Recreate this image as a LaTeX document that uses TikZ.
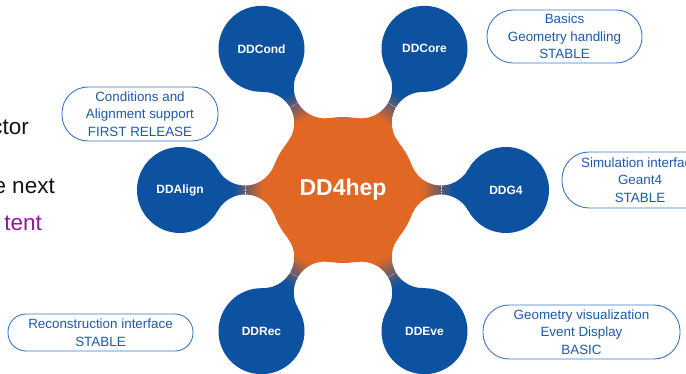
\documentclass[tikz,border=0pt]{standalone}
\usepackage{fontspec}
\setmainfont{Liberation Sans}
\usetikzlibrary{calc}
\definecolor{satblue}{RGB}{12,82,160}
\definecolor{coreorange}{RGB}{224,104,36}
\definecolor{boxline}{RGB}{60,120,192}
\definecolor{boxtext}{RGB}{30,90,170}
\definecolor{slidepurple}{RGB}{150,20,160}
\definecolor{slideblack}{RGB}{20,20,20}
\begin{document}
\begin{tikzpicture}[x=1pt,y=1pt,
  sat/.style={circle, fill=satblue, minimum size=86pt, inner sep=0pt, text=white, font=\bfseries\fontsize{12}{14}\selectfont},
  core/.style={circle, fill=coreorange, minimum size=146pt, inner sep=0pt, text=white, font=\bfseries\fontsize{23}{27}\selectfont},
  callout/.style={draw=boxline, line width=0.9pt, text=boxtext, align=center, inner sep=0pt, font=\fontsize{13.4}{17.5}\selectfont},
  slidetext/.style={anchor=base east, inner sep=0pt, font=\fontsize{22.5}{27}\selectfont}
]
\useasboundingbox (0,0) rectangle (686,-374);
\clip (0,0) rectangle (686,-374);
\fill[white] (0,0) rectangle (686,-374);

\coordinate (C) at (343,-190);
\foreach \ang/\nm in {0/g4,60/core,120/cond,180/align,240/rec,300/eve}{
  \coordinate (s-\nm) at ($(C)+(\ang:163)$);
}

% necks
\foreach \ang in {0,60,...,300}{
  \begin{scope}[shift={(C)}, rotate=\ang]
    \begin{scope}
      \clip (68.87,24.9) arc[start angle=200,end angle=331.4,radius=31] -- (140,0) -- (125.2,-20.66) arc[start angle=28.6,end angle=160,radius=31] -- (60,0) -- cycle;
      \foreach \i in {0,...,39}{
        \pgfmathsetmacro\xa{60+2*\i}
        \pgfmathsetmacro\t{min(100,max(0,(\xa+1-80)/30*100))}
        \fill[satblue!\t!coreorange] (\xa,-40) rectangle (\xa+2.4,40);
      }
    \end{scope}
    \draw[white, opacity=0.8, line width=0.4pt, dash pattern=on 0.8pt off 0.8pt] (98,-4.5) -- (98,4.5);
  \end{scope}
}

\node[core] (dd) at (C) {DD4hep};
\node[sat] (g4) at (s-g4) {DDG4};
\node[sat] (core) at (s-core) {DDCore};
\node[sat] (cond) at (s-cond) {DDCond};
\node[sat] (align) at (s-align) {DDAlign};
\node[sat] (rec) at (s-rec) {DDRec};
\node[sat] (eve) at (s-eve) {DDEve};

\node[callout, minimum width=155pt, minimum height=53pt, rounded corners=26pt] (cbasics) at (564.5,-36.5) {Basics\\Geometry handling\\STABLE};
\node[callout, minimum width=156pt, minimum height=56pt, rounded corners=27pt] (csim) at (640,-180) {Simulation interface\\Geant4\\STABLE};
\node[callout, minimum width=156pt, minimum height=54pt, rounded corners=26pt] (ccond) at (140,-114) {Conditions and\\Alignment support\\FIRST RELEASE};
\node[callout, minimum width=185pt, minimum height=37pt, rounded corners=18pt] (crec) at (100.5,-332.5) {Reconstruction interface\\STABLE};
\node[callout, minimum width=197pt, minimum height=54pt, rounded corners=26pt] (cvis) at (581.5,-332) {Geometry visualization\\Event Display\\BASIC};

\node[slidetext, text=slideblack] (t1) at (29,-135) {ctor};
\node[slidetext, text=slideblack] (t2) at (55,-194) {e next};
\node[slidetext, text=slidepurple] (t3) at (42,-231) {tent};
\end{tikzpicture}
\end{document}
